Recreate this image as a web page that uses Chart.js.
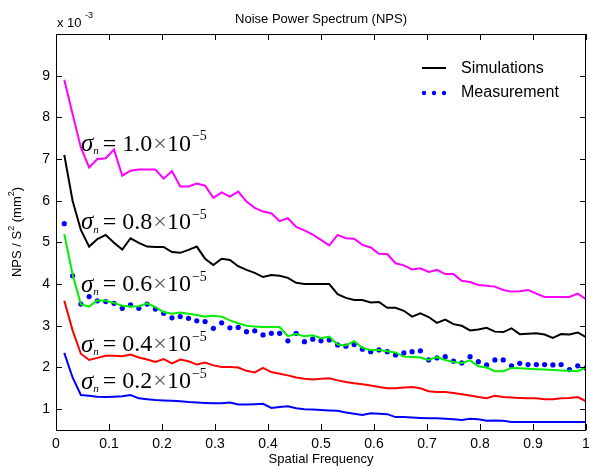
<!DOCTYPE html>
<html>
<head>
<meta charset="utf-8">
<script src="https://cdn.jsdelivr.net/npm/chart.js@4/dist/chart.umd.min.js"></script>
<style>
	html, body { margin: 0; padding: 0; background: #fff; overflow: hidden; }
	#wrap { width: 590px; height: 468px; position: relative; }
</style>
</head>
<body>
<div id="wrap"><canvas id="nps"></canvas></div>
<script>
// ** DATA: ** //

var freq = [0.0156, 0.0313, 0.0469, 0.0625, 0.0781, 0.0938, 0.1094, 0.125, 0.1406, 0.1563,
	0.1719, 0.1875, 0.2031, 0.2188, 0.2344, 0.25, 0.2656, 0.2813, 0.2969, 0.3125,
	0.3281, 0.3438, 0.3594, 0.375, 0.3906, 0.4063, 0.4219, 0.4375, 0.4531, 0.4688,
	0.4844, 0.5, 0.5156, 0.5313, 0.5469, 0.5625, 0.5781, 0.5938, 0.6094, 0.625,
	0.6406, 0.6563, 0.6719, 0.6875, 0.7031, 0.7188, 0.7344, 0.75, 0.7656, 0.7813,
	0.7969, 0.8125, 0.8281, 0.8438, 0.8594, 0.875, 0.8906, 0.9063, 0.9219, 0.9375,
	0.9531, 0.9688, 0.9844, 1.0];

// NPS values in units of 1e-3 mm^2
var sim10 = [8.9, 8.08, 7.28, 6.8, 7.0, 7.02, 7.23, 6.6, 6.72, 6.75,
	6.75, 6.75, 6.53, 6.71, 6.34, 6.34, 6.41, 6.36, 6.07, 6.2,
	6.1, 6.22, 5.98, 5.83, 5.74, 5.7, 5.51, 5.58, 5.37, 5.29,
	5.19, 5.06, 4.93, 5.18, 5.1, 5.09, 4.94, 4.88, 4.73, 4.72,
	4.5, 4.45, 4.35, 4.38, 4.29, 4.34, 4.24, 4.24, 4.08, 4.05,
	3.98, 3.96, 3.94, 3.86, 3.82, 3.83, 3.86, 3.77, 3.69, 3.69,
	3.69, 3.69, 3.77, 3.64];

var sim08 = [7.1, 6.0, 5.3, 4.9, 5.08, 5.18, 4.99, 4.83, 5.1, 4.99,
	4.9, 4.89, 4.89, 4.77, 4.75, 4.82, 4.9, 4.61, 4.46, 4.61,
	4.58, 4.43, 4.34, 4.27, 4.17, 4.22, 4.2, 4.15, 4.03, 4.0,
	4.0, 4.0, 4.0, 3.76, 3.67, 3.62, 3.62, 3.56, 3.57, 3.43,
	3.43, 3.36, 3.22, 3.3, 3.21, 3.07, 3.15, 3.04, 3.0, 2.89,
	2.91, 2.95, 2.86, 2.85, 2.94, 2.8, 2.81, 2.82, 2.79, 2.71,
	2.8, 2.79, 2.84, 2.73];

var sim06 = [5.2, 4.23, 3.52, 3.46, 3.61, 3.6, 3.55, 3.48, 3.46, 3.47,
	3.54, 3.45, 3.33, 3.29, 3.32, 3.29, 3.26, 3.22, 3.24, 3.22,
	3.13, 3.06, 3.0, 2.98, 2.97, 2.97, 2.97, 2.75, 2.8, 2.75,
	2.77, 2.7, 2.74, 2.55, 2.53, 2.63, 2.47, 2.42, 2.42, 2.39,
	2.36, 2.26, 2.25, 2.24, 2.18, 2.25, 2.18, 2.13, 2.11, 2.17,
	2.03, 2.0, 1.91, 1.91, 1.99, 1.98, 1.97, 1.96, 1.95, 1.94,
	1.93, 1.92, 1.91, 2.0];

var sim04 = [3.6, 2.89, 2.33, 2.18, 2.23, 2.28, 2.28, 2.27, 2.31, 2.24,
	2.19, 2.13, 2.2, 2.1, 2.19, 2.15, 2.07, 2.12, 2.05, 2.01,
	2.01, 2.0, 1.92, 1.88, 1.99, 1.89, 1.85, 1.81, 1.76, 1.73,
	1.71, 1.73, 1.74, 1.69, 1.65, 1.62, 1.6, 1.57, 1.53, 1.5,
	1.5, 1.52, 1.53, 1.5, 1.43, 1.41, 1.41, 1.39, 1.36, 1.33,
	1.29, 1.26, 1.32, 1.29, 1.28, 1.27, 1.26, 1.26, 1.24, 1.24,
	1.26, 1.27, 1.29, 1.19];

var sim02 = [2.35, 1.76, 1.34, 1.32, 1.3, 1.29, 1.3, 1.31, 1.34, 1.26,
	1.24, 1.22, 1.21, 1.2, 1.19, 1.17, 1.16, 1.15, 1.14, 1.14,
	1.16, 1.11, 1.11, 1.12, 1.13, 1.03, 1.05, 1.07, 1.02, 1.0,
	0.99, 0.98, 0.97, 0.96, 0.92, 0.89, 0.86, 0.9, 0.89, 0.88,
	0.81, 0.81, 0.8, 0.79, 0.78, 0.78, 0.77, 0.76, 0.74, 0.77,
	0.76, 0.72, 0.73, 0.72, 0.69, 0.69, 0.69, 0.69, 0.69, 0.69,
	0.69, 0.69, 0.69, 0.69];

var measured = [5.45, 4.2, 3.52, 3.7, 3.6, 3.58, 3.54, 3.42, 3.5, 3.42,
	3.52, 3.4, 3.3, 3.19, 3.22, 3.18, 3.12, 3.1, 2.94, 3.07,
	2.95, 2.96, 2.86, 2.88, 2.78, 2.82, 2.82, 2.64, 2.82, 2.62,
	2.68, 2.64, 2.66, 2.54, 2.51, 2.55, 2.44, 2.38, 2.42, 2.38,
	2.3, 2.35, 2.38, 2.4, 2.18, 2.23, 2.26, 2.15, 2.11, 2.26,
	2.14, 2.06, 2.18, 2.18, 2.04, 2.1, 2.07, 2.07, 2.07, 2.06,
	2.07, 1.95, 2.04, 1.99];

var xTicks = [0, 0.1, 0.2, 0.3, 0.4, 0.5, 0.6, 0.7, 0.8, 0.9, 1];
var yTicks = [1, 2, 3, 4, 5, 6, 7, 8, 9];

var sigmaLabels = ['1.0', '0.8', '0.6', '0.4', '0.2'];
var sigmaAt = [7.35, 5.47, 3.98, 2.54, 1.65];   // label centre, in y units

// ** FUNCTIONS: ** //

var SANS = '"Liberation Sans", Arial, sans-serif';
var SERIF = '"Liberation Serif", "Times New Roman", serif';

function toPoints(ys) {
	var pts = [];
	for (var i = 0; i < ys.length; i++) {
		pts.push({x: freq[i], y: ys[i]});
	}
	return pts;
}

function simLine(ys, color) {
	return {
		data: toPoints(ys),
		borderColor: color,
		borderWidth: 2,
		pointRadius: 0,
		tension: 0,
		fill: false
	};
}

function drawSigma(ctx, x, y, val) {
	ctx.fillStyle = '#000';
	ctx.textBaseline = 'middle';
	ctx.textAlign = 'left';
	ctx.font = 'italic 25px ' + SERIF;
	ctx.fillText('\u03c3', x, y);
	x += ctx.measureText('\u03c3').width;
	ctx.font = 'italic 11px ' + SERIF;
	ctx.fillText('n', x, y + 7);
	x += ctx.measureText('n').width + 4;
	ctx.font = '24px ' + SERIF;
	var s = '= ' + val;
	ctx.fillText(s, x, y);
	x += ctx.measureText(s).width + 1;
	ctx.fillStyle = '#555';
	ctx.fillText('\u00d7', x, y);
	x += ctx.measureText('\u00d7').width;
	ctx.fillStyle = '#000';
	ctx.fillText('10', x, y);
	x += ctx.measureText('10').width + 1;
	ctx.font = '14px ' + SERIF;
	ctx.fillText('\u22125', x, y - 8);
}

var decor = {
	id: 'decor',
	afterDatasetsDraw: function(chart) {
		var ctx = chart.ctx;
		var a = chart.chartArea;
		var xs = chart.scales.x, ys = chart.scales.y;
		var i, p;

		ctx.save();
		// box and inward ticks
		ctx.strokeStyle = '#000';
		ctx.lineWidth = 1;
		ctx.strokeRect(a.left + 0.5, a.top + 0.5, a.right - a.left - 1, a.bottom - a.top);
		ctx.beginPath();
		for (i = 0; i < xTicks.length; i++) {
			p = Math.round(xs.getPixelForValue(xTicks[i])) + 0.5;
			ctx.moveTo(p, a.bottom); ctx.lineTo(p, a.bottom - 6);
			ctx.moveTo(p, a.top); ctx.lineTo(p, a.top + 6);
		}
		for (i = 0; i < yTicks.length; i++) {
			p = Math.round(ys.getPixelForValue(yTicks[i])) + 0.5;
			ctx.moveTo(a.left, p); ctx.lineTo(a.left + 6, p);
			ctx.moveTo(a.right, p); ctx.lineTo(a.right - 6, p);
		}
		ctx.stroke();

		// sigma annotations
		for (i = 0; i < sigmaLabels.length; i++) {
			drawSigma(ctx, 81, ys.getPixelForValue(sigmaAt[i]), sigmaLabels[i]);
		}

		// legend
		ctx.strokeStyle = '#000';
		ctx.lineWidth = 2;
		ctx.beginPath();
		ctx.moveTo(422, 68); ctx.lineTo(446, 68);
		ctx.stroke();
		ctx.fillStyle = '#0000ff';
		for (i = 0; i < 3; i++) {
			ctx.beginPath();
			ctx.arc(424 + i * 10, 93, 2.2, 0, Math.PI * 2);
			ctx.fill();
		}
		ctx.fillStyle = '#000';
		ctx.font = '16px ' + SANS;
		ctx.textAlign = 'left';
		ctx.textBaseline = 'middle';
		ctx.fillText('Simulations', 461, 69);
		ctx.fillText('Measurement', 461, 93);

		// titles
		ctx.font = '13px ' + SANS;
		ctx.textAlign = 'center';
		ctx.fillText('Noise Power Spectrum (NPS)', (a.left + a.right) / 2, 19);
		ctx.textBaseline = 'top';
		ctx.fillText('Spatial Frequency', (a.left + a.right) / 2, 453);

		ctx.textAlign = 'left';
		ctx.textBaseline = 'middle';
		ctx.fillText('x 10', 57, 23);
		ctx.font = '9px ' + SANS;
		ctx.fillText('-3', 85, 16);

		// y axis title
		ctx.translate(17, 232);
		ctx.rotate(-Math.PI / 2);
		ctx.font = '13px ' + SANS;
		var parts = [['NPS / S', 0], ['2', 1], [' (mm', 0], ['2', 1], [')', 0]];
		var w = 0;
		for (i = 0; i < parts.length; i++) {
			ctx.font = (parts[i][1] ? '9px ' : '13px ') + SANS;
			w += ctx.measureText(parts[i][0]).width;
		}
		var cx = -w / 2;
		for (i = 0; i < parts.length; i++) {
			ctx.font = (parts[i][1] ? '9px ' : '13px ') + SANS;
			ctx.fillText(parts[i][0], cx, parts[i][1] ? -5 : 0);
			cx += ctx.measureText(parts[i][0]).width;
		}
		ctx.restore();
	}
};

// ** ENTRY POINT: ** //

var measuredSet = {
	data: toPoints(measured),
	showLine: false,
	pointRadius: 2.6,
	pointBackgroundColor: '#0000ff',
	pointBorderWidth: 0,
	borderColor: '#0000ff'
};

new Chart(document.getElementById('nps'), {
	type: 'line',
	data: {
		datasets: [
			simLine(sim10, '#ff00ff'),
			simLine(sim08, '#000000'),
			simLine(sim06, '#00ee00'),
			simLine(sim04, '#ff0000'),
			simLine(sim02, '#0000ff'),
			measuredSet
		]
	},
	options: {
		responsive: true,
		maintainAspectRatio: false,
		animation: false,
		layout: {padding: {top: 34, right: 2, left: 0, bottom: 0}},
		plugins: {legend: {display: false}, tooltip: {enabled: false}},
		scales: {
			x: {
				type: 'linear', min: 0, max: 1,
				grid: {display: false, drawTicks: false},
				border: {display: false},
				afterFit: function(s) {
					s.height = 38;
					s.paddingLeft = 0;
					s.paddingRight = 0;
				},
				afterBuildTicks: function(s) {
					s.ticks = xTicks.map(function(v) { return {value: v}; });
				},
				ticks: {
					color: '#000', padding: 6, maxRotation: 0, autoSkip: false,
					font: {family: SANS, size: 14},
					callback: function(v) { return String(v); }
				}
			},
			y: {
				type: 'linear', min: 0.5, max: 10,
				grid: {display: false, drawTicks: false},
				border: {display: false},
				afterFit: function(s) {
					s.width = 56;
					s.paddingTop = 0;
					s.paddingBottom = 0;
				},
				afterBuildTicks: function(s) {
					s.ticks = yTicks.map(function(v) { return {value: v}; });
				},
				ticks: {
					color: '#000', padding: 6, autoSkip: false,
					font: {family: SANS, size: 14}
				}
			}
		}
	},
	plugins: [decor]
});
</script>
</body>
</html>
